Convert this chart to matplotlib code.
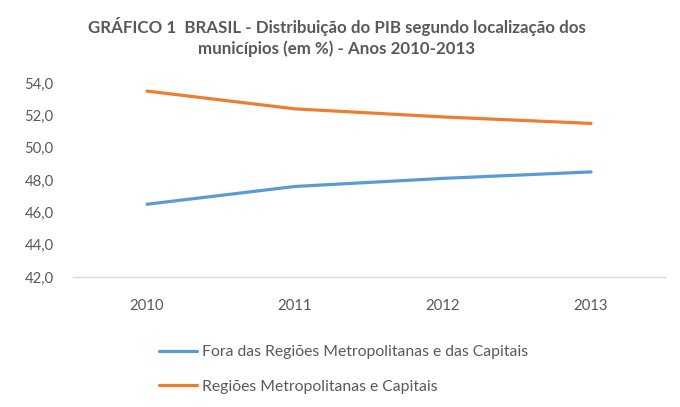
import matplotlib
matplotlib.use("Agg")
import matplotlib.pyplot as plt
from matplotlib.ticker import FuncFormatter

years = ["2010", "2011", "2012", "2013"]
fora = [46.5, 47.6, 48.1, 48.5]
regioes = [53.5, 52.4, 51.9, 51.5]
series_names = ["Fora das Regiões Metropolitanas e das Capitais",
                "Regiões Metropolitanas e Capitais"]
title = ("GRÁFICO 1  BRASIL - Distribuição do PIB segundo localização dos\n"
         "municípios (em %) - Anos 2010-2013")

plt.rcParams['font.family'] = ['Lato', 'DejaVu Sans']
grey = "#595959"

W, H = 680, 407
fig = plt.figure(figsize=(W / 100, H / 100), dpi=100)
ax = fig.add_axes([73 / W, (H - 277) / H, 592 / W, (277 - 83) / H])

x = list(range(len(years)))
ax.plot(x, fora, color="#5B9BD5", lw=2.3, solid_capstyle="round", label=series_names[0])
ax.plot(x, regioes, color="#ED7D31", lw=2.3, solid_capstyle="round", label=series_names[1])

ax.set_xlim(-0.5, len(years) - 0.5)
ax.set_ylim(42, 54)
ax.set_yticks([42, 44, 46, 48, 50, 52, 54])
ax.yaxis.set_major_formatter(FuncFormatter(lambda v, p: f"{v:.1f}".replace(".", ",")))
ax.set_xticks(x)
ax.set_xticklabels(years)

for s in ["top", "right", "left"]:
    ax.spines[s].set_visible(False)
ax.spines["bottom"].set_color("#D9D9D9")
ax.spines["bottom"].set_linewidth(1.0)
ax.tick_params(axis="both", length=0, labelcolor=grey, labelsize=10.7)
ax.tick_params(axis="y", pad=14)
ax.tick_params(axis="x", pad=16)

fig.text(337 / W, 1 - 37 / H, title, ha="center", va="center", fontsize=12.2,
         fontweight="bold", color=grey, linespacing=1.3)

leg = fig.legend(loc="center left", bbox_to_anchor=(159 / W, 1 - 369.5 / H),
                 frameon=False, fontsize=11.3, handlelength=2.45, handletextpad=0.28,
                 labelspacing=1.32, borderpad=0, borderaxespad=0)
for t in leg.get_texts():
    t.set_color(grey)

fig.savefig("out.png", dpi=100)
